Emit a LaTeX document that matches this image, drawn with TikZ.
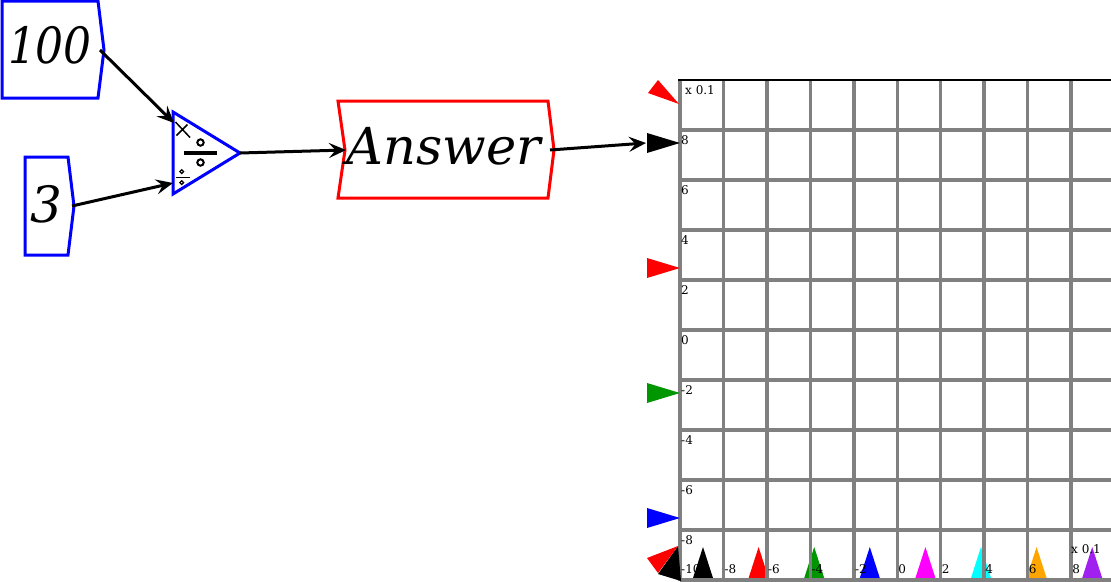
\documentclass[tikz,border=0pt]{standalone}
\usepackage{fontspec}
\setmainfont{DejaVu Serif}
\usetikzlibrary{arrows.meta}
\definecolor{gridgray}{RGB}{128,128,128}
\definecolor{myorange}{RGB}{255,165,0}
\definecolor{mypurple}{RGB}{160,32,240}
\definecolor{mygreen}{RGB}{0,150,0}
\definecolor{mymagenta}{RGB}{255,0,255}
\definecolor{mycyan}{RGB}{0,255,255}
\begin{document}
\begin{tikzpicture}[x=1pt,y=-1pt,
  inbox/.style={draw=blue,line width=3pt,line join=miter},
  ansbox/.style={draw=red,line width=3pt,line join=miter},
  conn/.style={line width=3pt,-{Stealth[length=17pt,width=15pt,inset=6.5pt]}},
  bigtxt/.style={font=\fontsize{50}{50}\selectfont\itshape,inner sep=0pt},
  smalltxt/.style={font=\fontsize{12}{12}\selectfont,inner sep=0pt,anchor=west},
  gridline/.style={draw=gridgray,line width=3.5pt},
  marker/.style={draw=none}]
\useasboundingbox (0,0) rectangle (1111,581);

% input boxes
\draw[inbox] (2,1) -- (98,1) -- (104,50) -- (98,98) -- (2,98) -- cycle;
\node[bigtxt,xscale=0.88] (t100) at (50,45) {100};
\coordinate (c100) at (100,50);

\draw[inbox] (25,157) -- (68,157) -- (74,206) -- (68,255) -- (25,255) -- cycle;
\node[bigtxt] (t3) at (46,204) {3};
\coordinate (c3) at (72,206);

% divider triangle
\draw[draw=blue,line width=3pt,line join=miter] (173,112) -- (240,153) -- (173,194) -- cycle;
\node[inner sep=0pt] (div) at (200,153) {};
\coordinate (divin1) at (174,123);
\coordinate (divin2) at (173,183);
\coordinate (divout) at (240,153);
\draw[line width=1.5pt] (175.5,122) -- (190,137.5) (176.5,135.5) -- (187.5,124.5);
\draw[line width=3.5pt] (184,153) -- (217,153);
\draw[line width=2pt,fill=white] (200.5,142.5) circle (3.2) (200.5,162.5) circle (3.2);
\draw[line width=1.5pt] (176,177.3) -- (190,177.3);
\draw[line width=1.2pt,fill=white] (181.7,171.6) circle (1.9) (181.7,182.6) circle (1.9);

% answer box
\draw[ansbox] (338,101) -- (548,101) -- (554,150) -- (548,198) -- (338,198) -- (345,150) -- cycle;
\node[bigtxt,font=\fontsize{51}{51}\selectfont\itshape] (ans) at (444,146) {Answer};
\coordinate (ansin) at (346,150);
\coordinate (ansout) at (550,150);
\coordinate (gridin) at (646,143);

% connectors
\draw[conn] (c100) -- (divin1);
\draw[conn] (c3) -- (divin2);
\draw[conn] (divout) -- (ansin);
\draw[conn] (ansout) -- (gridin);

% x-axis markers
\foreach \c [count=\i from 0] in {black,red,mygreen,blue,mymagenta,mycyan,myorange,mypurple}{
  \fill[\c] ({703+55.6*\i-10},578) -- ({703+55.6*\i},547) -- ({703+55.6*\i+10},578) -- cycle;
}

% grid
\foreach \k in {1,...,10}{
  \draw[gridline] (680,{80+50*\k}) -- (1111,{80+50*\k});
}
\foreach \k in {1,...,9}{
  \draw[gridline] ({680+43.45*\k},80) -- ({680+43.45*\k},581);
}
\draw[draw=gridgray,line width=4pt] (680,80) -- (680,581);
\draw[line width=2.5pt] (678,80) -- (1111,80);

% y-axis markers
\fill[black] (647,133) -- (680,143) -- (647,153) -- cycle;
\fill[red] (647,258) -- (680,268) -- (647,278) -- cycle;
\fill[mygreen] (647,383) -- (680,393) -- (647,403) -- cycle;
\fill[blue] (647,508) -- (680,518) -- (647,528) -- cycle;
\fill[red] (648,93) -- (658,80) -- (679,104) -- cycle;
\fill[black] (678,546) -- (658,574) -- (681,581) -- cycle;
\fill[red] (678,546) -- (647,558) -- (658,573) -- cycle;

% labels
\node[smalltxt] (xs1) at (685,90) {x 0.1};
\node[smalltxt] (xs2) at (1071,549) {x 0.1};
\foreach \t [count=\i from 0] in {8,6,4,2,0,-2,-4,-6,-8}{
  \node[smalltxt] (yl\i) at (681,{140+50*\i}) {\t};
}
\foreach \t [count=\i from 0] in {-10,-8,-6,-4,-2,0,2,4,6,8}{
  \node[smalltxt] (xl\i) at ({681+43.45*\i},569) {\t};
}
\end{tikzpicture}
\end{document}
